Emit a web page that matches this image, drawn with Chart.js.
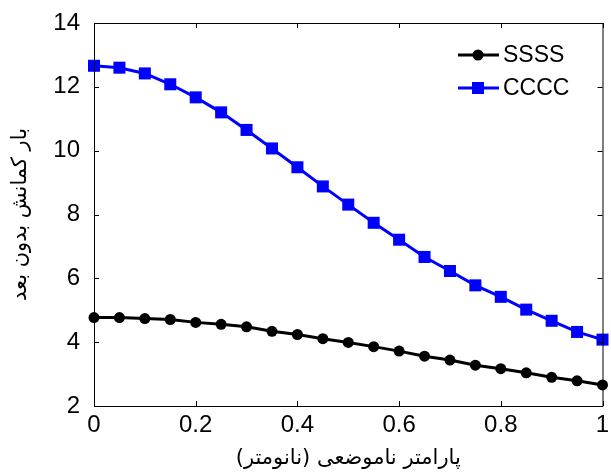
<!DOCTYPE html>
<html>
<head>
<meta charset="utf-8">
<script src="https://cdn.jsdelivr.net/npm/chart.js@4"></script>
<style>
  html, body { margin: 0; padding: 0; background: #fff; }
  #wrap { width: 611px; height: 475px; }
</style>
</head>
<body>
<div id="wrap"><canvas id="grafico" width="611" height="475"></canvas></div>
<script>
// Datos
const parametro = [0, 0.05, 0.1, 0.15, 0.2, 0.25, 0.3, 0.35, 0.4, 0.45, 0.5,
                   0.55, 0.6, 0.65, 0.7, 0.75, 0.8, 0.85, 0.9, 0.95, 1];
const cargaSSSS = [4.77, 4.77, 4.74, 4.71, 4.62, 4.56, 4.48, 4.34, 4.24, 4.11, 3.99,
                   3.86, 3.72, 3.56, 3.44, 3.28, 3.17, 3.04, 2.90, 2.79, 2.66];
const cargaCCCC = [12.66, 12.60, 12.42, 12.08, 11.67, 11.20, 10.65, 10.07, 9.48, 8.88, 8.31,
                   7.74, 7.21, 6.67, 6.23, 5.78, 5.42, 5.02, 4.67, 4.32, 4.08];
const ticksX = [0, 0.2, 0.4, 0.6, 0.8, 1];
const ticksY = [2, 4, 6, 8, 10, 12, 14];

const fuenteNum = 'Liberation Sans, Arial, sans-serif';
const fuenteFa = 'DejaVu Sans, sans-serif';

function puntos(ys) {
    return parametro.map((x, i) => ({ x: x, y: ys[i] }));
}

// Marco con marcas hacia adentro (estilo MATLAB) y leyenda dentro del área
const marcoPlugin = {
    id: 'marco',
    afterDraw(chart) {
        const ctx = chart.ctx;
        const a = chart.chartArea;
        const sx = chart.scales.x, sy = chart.scales.y;
        const largo = 5;
        ctx.save();
        ctx.strokeStyle = '#000';
        ctx.lineWidth = 1;
        ctx.beginPath();
        ctx.rect(a.left + 0.5, a.top + 0.5, a.right - a.left, a.bottom - a.top);
        ticksX.forEach(v => {
            const px = Math.round(sx.getPixelForValue(v)) + 0.5;
            ctx.moveTo(px, a.bottom); ctx.lineTo(px, a.bottom - largo);
            ctx.moveTo(px, a.top); ctx.lineTo(px, a.top + largo);
        });
        ticksY.forEach(v => {
            const py = Math.round(sy.getPixelForValue(v)) + 0.5;
            ctx.moveTo(a.left, py); ctx.lineTo(a.left + largo, py);
            ctx.moveTo(a.right, py); ctx.lineTo(a.right - largo, py);
        });
        ctx.stroke();

        // leyenda
        const items = chart.data.datasets;
        ctx.font = '23px ' + fuenteNum;
        ctx.textBaseline = 'middle';
        ctx.textAlign = 'left';
        items.forEach((ds, i) => {
            const cy = 55 + i * 33;
            ctx.strokeStyle = ds.borderColor;
            ctx.lineWidth = 3;
            ctx.beginPath();
            ctx.moveTo(458, cy); ctx.lineTo(499, cy);
            ctx.stroke();
            ctx.fillStyle = ds.borderColor;
            if (ds.pointStyle === 'rect') {
                ctx.fillRect(472, cy - 6, 12, 12);
            } else {
                ctx.beginPath();
                ctx.arc(478, cy, 5.5, 0, Math.PI * 2);
                ctx.fill();
            }
            ctx.fillStyle = '#000';
            ctx.fillText(ds.label, 503, cy + 1);
        });
        ctx.restore();
    }
};

new Chart(document.getElementById('grafico'), {
    type: 'line',
    data: {
        datasets: [{
            label: 'SSSS',
            data: puntos(cargaSSSS),
            borderColor: '#000000',
            backgroundColor: '#000000',
            borderWidth: 3,
            pointStyle: 'circle',
            pointRadius: 5.5,
            pointBorderWidth: 0,
            tension: 0,
            clip: false
        }, {
            label: 'CCCC',
            data: puntos(cargaCCCC),
            borderColor: '#0000ff',
            backgroundColor: '#0000ff',
            borderWidth: 3,
            pointStyle: 'rect',
            pointRadius: 8.5,
            pointBorderWidth: 0,
            tension: 0,
            clip: false
        }]
    },
    options: {
        responsive: false,
        devicePixelRatio: 1,
        animation: false,
        layout: { padding: { top: 23, right: 7, left: 0, bottom: 0 } },
        plugins: {
            legend: { display: false },
            tooltip: { enabled: false }
        },
        scales: {
            x: {
                type: 'linear',
                min: 0,
                max: 1,
                grid: { display: false },
                border: { display: false },
                afterBuildTicks: s => { s.ticks = ticksX.map(v => ({ value: v })); },
                afterFit: s => { s.height = 69; },
                ticks: {
                    color: '#000',
                    padding: -3,
                    maxRotation: 0,
                    font: { family: fuenteNum, size: 24 },
                    callback: v => String(v)
                },
                title: {
                    display: true,
                    text: 'پارامتر ناموضعی (نانومتر)',
                    color: '#000',
                    font: { family: fuenteFa, size: 21 },
                    padding: { top: 0, bottom: 4 }
                }
            },
            y: {
                type: 'linear',
                min: 2,
                max: 14,
                grid: { display: false },
                border: { display: false },
                afterBuildTicks: s => { s.ticks = ticksY.map(v => ({ value: v })); },
                afterFit: s => { s.width = 94; },
                ticks: {
                    color: '#000',
                    padding: 6,
                    font: { family: fuenteNum, size: 24 },
                    callback: v => String(v)
                },
                title: {
                    display: true,
                    text: 'بار کمانش بدون بعد',
                    color: '#000',
                    font: { family: fuenteFa, size: 21 },
                    padding: { top: 8, bottom: 0 }
                }
            }
        }
    },
    plugins: [marcoPlugin]
});
</script>
</body>
</html>
